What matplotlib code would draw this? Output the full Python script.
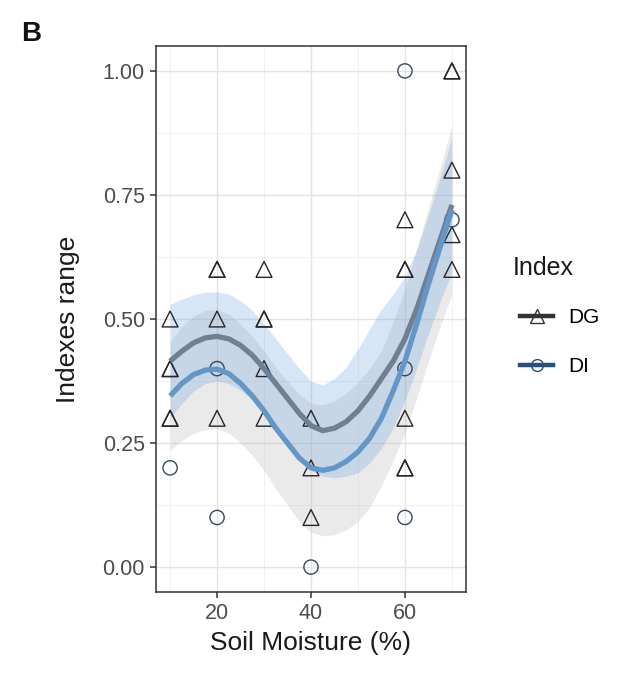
import numpy as np
import matplotlib
matplotlib.use("Agg")
import matplotlib.pyplot as plt
from matplotlib.lines import Line2D

plt.rcParams['font.family'] = ['Liberation Sans', 'DejaVu Sans']

# raw observations
dg_x = [10, 10, 10, 10, 10, 20, 20, 20, 20, 30, 30, 30, 30, 30, 40, 40, 40,
        60, 60, 60, 60, 60, 60, 70, 70, 70, 70, 70]
dg_y = [0.5, 0.4, 0.4, 0.3, 0.3, 0.6, 0.6, 0.5, 0.3, 0.6, 0.5, 0.5, 0.4, 0.3,
        0.3, 0.2, 0.1, 0.7, 0.6, 0.6, 0.3, 0.2, 0.2, 1.0, 1.0, 0.8, 0.67, 0.6]
di_x = [10, 20, 20, 40, 60, 60, 60, 70]
di_y = [0.2, 0.4, 0.1, 0.0, 1.0, 0.4, 0.1, 0.7]

# smoothed fits
fit_x = [10, 12.5, 15, 17.5, 20, 22.5, 25, 27.5, 30, 32.5, 35, 37.5, 40,
         42.5, 45, 47.5, 50, 52.5, 55, 57.5, 60, 62.5, 65, 67.5, 70]
dg_fit = [0.415, 0.435, 0.452, 0.462, 0.465, 0.46, 0.447, 0.427, 0.40, 0.37,
          0.34, 0.31, 0.285, 0.275, 0.28, 0.293, 0.315, 0.345, 0.38, 0.415,
          0.46, 0.52, 0.59, 0.66, 0.73]
dg_se = [0.115, 0.105, 0.097, 0.092, 0.09, 0.09, 0.09, 0.09, 0.09, 0.09,
         0.09, 0.09, 0.09, 0.092, 0.1, 0.11, 0.125, 0.135, 0.14, 0.135,
         0.125, 0.12, 0.12, 0.125, 0.135]
di_fit = [0.345, 0.37, 0.388, 0.397, 0.399, 0.39, 0.37, 0.345, 0.315, 0.28,
          0.25, 0.22, 0.2, 0.195, 0.2, 0.213, 0.232, 0.26, 0.30, 0.355,
          0.415, 0.49, 0.57, 0.645, 0.72]
di_se = [0.11, 0.115, 0.118, 0.12, 0.12, 0.12, 0.12, 0.12, 0.12, 0.122,
         0.125, 0.128, 0.13, 0.132, 0.135, 0.138, 0.14, 0.14, 0.135, 0.14,
         0.145, 0.15, 0.155, 0.16, 0.17]

dg_band = "#609ce0"
di_band = "#b5b5b5"
dg_line = "#6d8094"
di_line = "#6497c8"
dg_pt = "#262626"
di_pt = "#34495e"

fig = plt.figure(figsize=(6.25, 6.78), dpi=100)
ax = fig.add_axes([0.2496, 0.127, 0.496, 0.805])

fx = np.array(fit_x)
ax.fill_between(fx, np.array(di_fit) - np.array(di_se), np.array(di_fit) + np.array(di_se),
                color=di_band, alpha=0.28, lw=0, zorder=1)
ax.fill_between(fx, np.array(dg_fit) - np.array(dg_se), np.array(dg_fit) + np.array(dg_se),
                color=dg_band, alpha=0.25, lw=0, zorder=1)

ax.scatter(dg_x, dg_y, marker='^', s=130, facecolors='none', edgecolors=dg_pt,
           linewidths=1.0, zorder=3)
ax.scatter(di_x, di_y, marker='o', s=105, facecolors='none', edgecolors=di_pt,
           linewidths=1.0, zorder=3)

ax.plot(fx, dg_fit, color=dg_line, lw=3.8, zorder=4, solid_capstyle='butt')
ax.plot(fx, di_fit, color=di_line, lw=3.8, zorder=4, solid_capstyle='butt')

ax.set_xlim(7, 73)
ax.set_ylim(-0.05, 1.05)
ax.set_xticks([20, 40, 60])
ax.set_xticks([10, 30, 50, 70], minor=True)
ax.set_yticks([0, 0.25, 0.5, 0.75, 1.0])
ax.set_yticks([0.125, 0.375, 0.625, 0.875], minor=True)
ax.set_yticklabels(["0.00", "0.25", "0.50", "0.75", "1.00"])
ax.grid(which='major', color='#e3e3e3', lw=1.0, zorder=0)
ax.grid(which='minor', color='#efefef', lw=0.6, zorder=0)
ax.set_axisbelow(True)
ax.tick_params(which='minor', length=0)
ax.tick_params(which='major', length=4.5, color='#333333', width=1.1,
               labelsize=15.5, labelcolor='#4d4d4d', pad=3.5)
for s in ax.spines.values():
    s.set_color('#333333')
    s.set_linewidth(1.1)

ax.set_xlabel("Soil Moisture (%)", fontsize=19, color='#1a1a1a')
ax.set_ylabel("Indexes range", fontsize=19, color='#1a1a1a')
ax.xaxis.set_label_coords(0.5, -0.072)
ax.yaxis.set_label_coords(-0.245, 0.5)

fig.text(0.034, 0.94, "B", fontsize=20, fontweight='bold', color='#111111')

fig.text(0.821, 1 - 268 / 678, "Index", fontsize=18, va='center', color='#1a1a1a')
handles = [
    Line2D([], [], color='#333333', lw=3.2, marker='^', markersize=9.5,
           markerfacecolor='none', markeredgecolor='#333333'),
    Line2D([], [], color='#24527d', lw=3.2, marker='o', markersize=8.5,
           markerfacecolor='none', markeredgecolor='#24527d'),
]
leg = fig.legend(handles, ["DG", "DI"], loc='upper left',
                 bbox_to_anchor=(0.832, 1 - 308 / 678), frameon=False, fontsize=15,
                 handlelength=1.6, labelspacing=1.45, handletextpad=0.72,
                 borderpad=0, borderaxespad=0)

fig.savefig("out.png", dpi=100)
